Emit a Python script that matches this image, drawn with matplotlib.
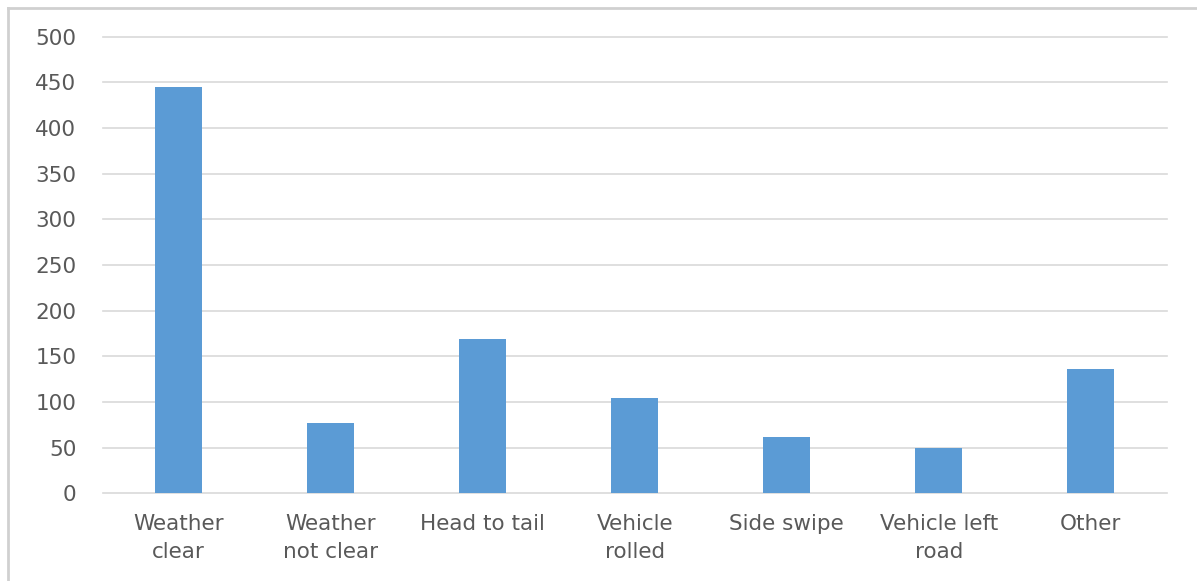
import matplotlib.pyplot as plt
from matplotlib.lines import Line2D

categories = ["Weather\nclear", "Weather\nnot clear", "Head to tail", "Vehicle\nrolled",
              "Side swipe", "Vehicle left\nroad", "Other"]
counts = [445, 77, 169, 104, 62, 50, 136]
y_ticks = [0, 50, 100, 150, 200, 250, 300, 350, 400, 450, 500]

plt.rcParams['font.family'] = ['DejaVu Sans']

fig = plt.figure(figsize=(11.97, 5.81), dpi=100)
ax = fig.add_axes([102.7 / 1197, 1 - 493.3 / 581, (1166.7 - 102.7) / 1197, (493.3 - 36.7) / 581])

x = range(len(categories))
ax.bar(x, counts, width=0.31, color="#5b9bd5", zorder=3)

ax.set_xlim(-0.5, len(categories) - 0.5)
ax.set_ylim(0, 500)
ax.set_yticks(y_ticks)
ax.set_xticks(list(x))
ax.set_xticklabels(categories, color="#595959", fontsize=15.5, linespacing=1.5)
ax.tick_params(axis='y', labelcolor="#595959", labelsize=15.5, length=0, pad=19)
ax.tick_params(axis='x', length=0, pad=15)
ax.grid(axis='y', color="#d9d9d9", linewidth=1.2, zorder=0)
for gl in ax.get_ygridlines():
    gl.set_clip_on(False)
for s in ax.spines.values():
    s.set_visible(False)

# chart frame: only the top and left edges fall inside the image
fig.add_artist(Line2D([8 / 1197, 1], [1 - 8 / 581, 1 - 8 / 581], color="#d0d0d0", linewidth=2))
fig.add_artist(Line2D([8 / 1197, 8 / 1197], [0, 1 - 8 / 581], color="#d0d0d0", linewidth=2))

fig.savefig("out.png", dpi=100)
